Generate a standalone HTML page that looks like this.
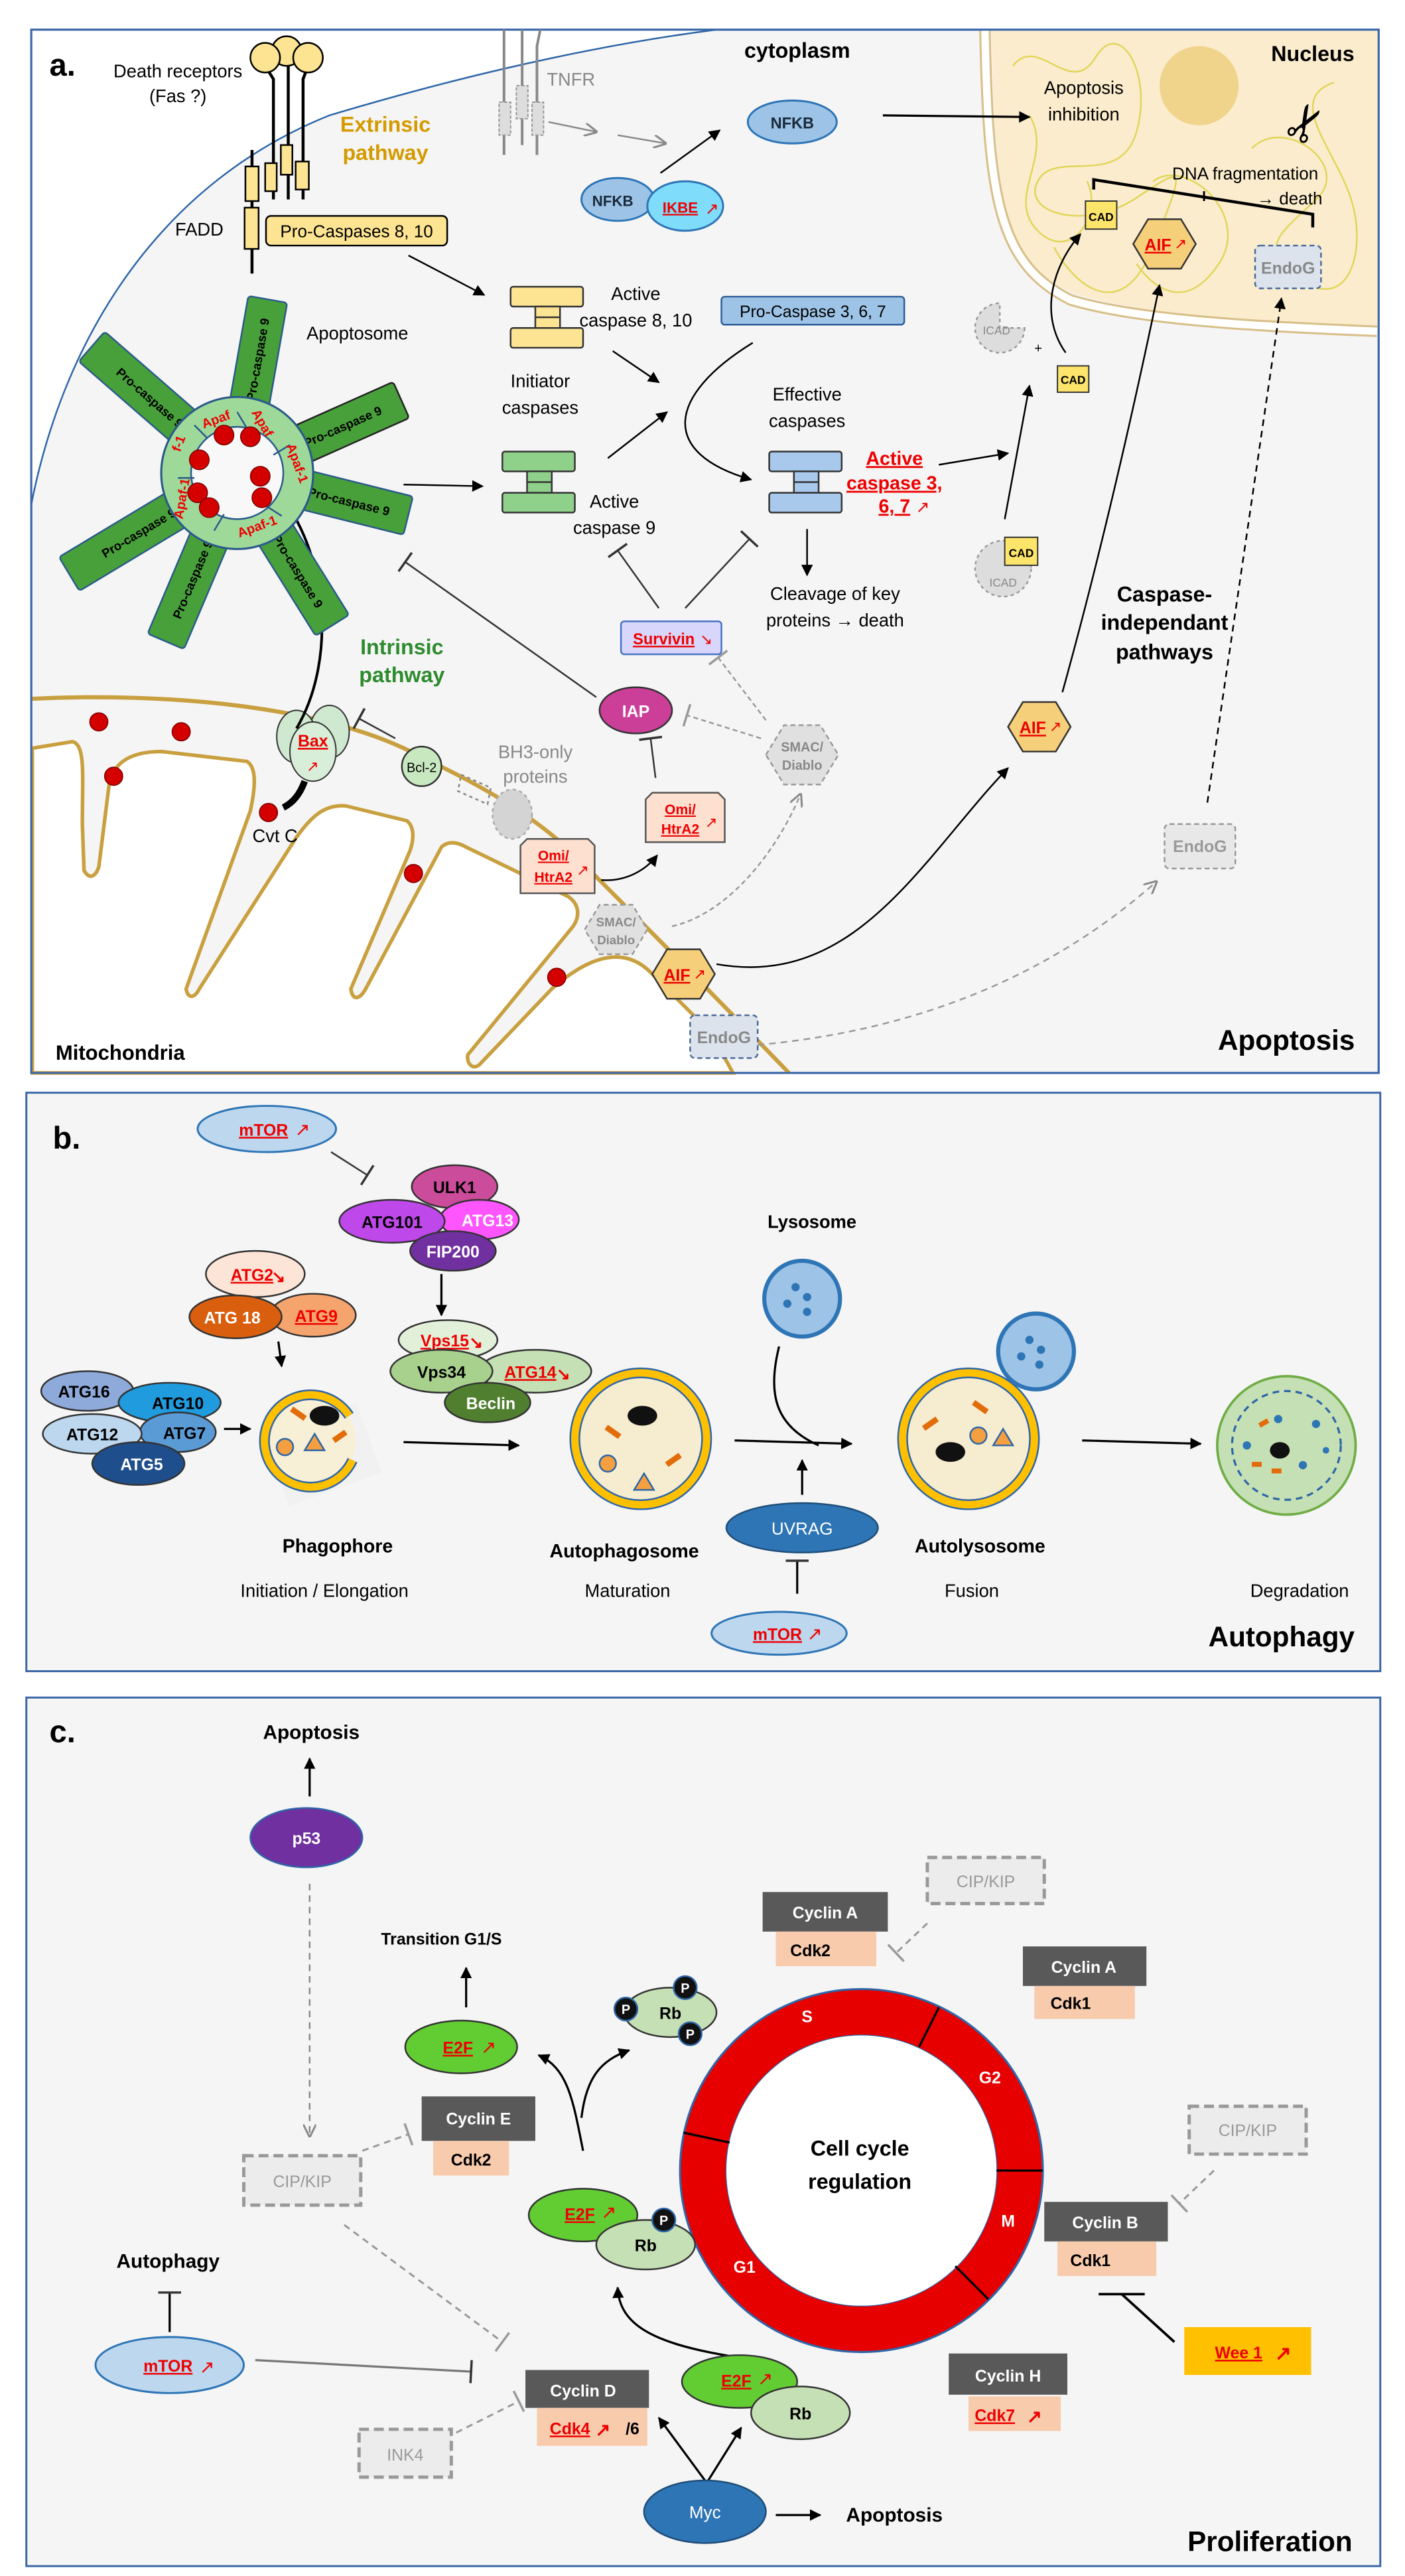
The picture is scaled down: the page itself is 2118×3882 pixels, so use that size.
<!DOCTYPE html>
<html><head><meta charset="utf-8"><style>
html,body{margin:0;padding:0;background:#fff}
svg{display:block}
text{font-family:"Liberation Sans",sans-serif;}
</style></head><body>
<svg width="2118" height="3882" viewBox="0 0 853 1563" preserveAspectRatio="none" xmlns="http://www.w3.org/2000/svg">
<defs>
<marker id="ar" viewBox="0 0 10 10" refX="9" refY="5" markerWidth="7" markerHeight="7" orient="auto" markerUnits="userSpaceOnUse"><path d="M0,0 L10,5 L0,10 z" fill="#000"/></marker>
<marker id="arg" viewBox="0 0 10 10" refX="9" refY="5" markerWidth="8" markerHeight="8" orient="auto" markerUnits="userSpaceOnUse"><path d="M0,0 L10,5 L0,10" fill="none" stroke="#888" stroke-width="1.5"/></marker>
<marker id="bar" viewBox="0 0 4 20" refX="2" refY="10" markerWidth="4" markerHeight="14" orient="auto" markerUnits="userSpaceOnUse"><path d="M2,0 L2,20" stroke="#333" stroke-width="2"/></marker>
<marker id="barg" viewBox="0 0 4 20" refX="2" refY="10" markerWidth="4" markerHeight="14" orient="auto" markerUnits="userSpaceOnUse"><path d="M2,0 L2,20" stroke="#999" stroke-width="2"/></marker>
</defs>

<!-- ================= PANEL A ================= -->
<rect x="19" y="18" width="818" height="633" fill="#f5f5f5" stroke="#3a66a8" stroke-width="1.2"/>
<!-- outside cell white -->
<path d="M19.6,18.6 L435,18.6 C380,25 300,40 200,70 C100,110 40,200 19.6,306 Z" fill="#fff"/>
<path d="M19,306 C40,200 100,110 200,70 C300,40 380,25 435,18" fill="none" stroke="#2e66a8" stroke-width="1"/>
<!-- nucleus -->
<path d="M598,18.6 L836.4,18.6 L836.4,199 C760,196 690,190 652,178 C612,160 604,130 602,18.6 Z" fill="#fbeccd"/>
<path d="M598,18.6 C600,120 606,160 650,182 C690,194 760,198 836,201" fill="none" stroke="#d8c08a" stroke-width="7"/>
<path d="M598,18.6 C600,120 606,160 650,182 C690,194 760,198 836,201" fill="none" stroke="#fff" stroke-width="4.5"/>
<circle cx="728" cy="52" r="24" fill="#f0d48c"/>
<g fill="none" stroke="#e2d55a" stroke-width="1">
<path d="M615,40 C630,20 650,60 665,35 S700,45 690,80 S640,90 630,110 S660,140 690,120 S720,100 700,150 S650,170 640,150"/>
<path d="M760,90 C780,70 820,100 800,120 S760,150 790,170 S830,150 820,120 S780,60 810,50"/>
<path d="M700,110 C720,95 760,130 740,160 S700,175 690,160"/>
<path d="M625,70 C640,95 610,120 630,140 S670,130 660,110"/>
</g>
<!-- mitochondria -->
<path d="M19,424 C100,420 200,428 257,460 C300,480 330,500 350,520 C380,550 420,590 479,651" fill="none" stroke="#c9a040" stroke-width="2.5"/>
<path d="M19.6,454 L44,450 C52,452 50,470 50,500 L51,528 C54,534 58,532 60,526 L66,478 C68,462 80,456 98,456 L150,462 C156,466 155,478 152,492 L113,600 C114,606 118,606 121,600 L180,508 C190,494 198,488 210,489 L247,498 C252,502 251,510 249,516 L213,600 C214,607 218,607 222,600 L268,514 C272,510 278,511 283,514 L345,544 C352,549 352,556 348,562 L284,640 C283,646 288,650 292,645 L335,600 C360,578 380,575 395,590 L425,620 C435,632 440,642 445,651 L19.6,651 Z" fill="#fff" stroke="#c9a040" stroke-width="2.2"/>
<rect x="19" y="18" width="818" height="633" fill="none" stroke="#3a66a8" stroke-width="1.2"/>
<g fill="#d40000" stroke="#7a0000" stroke-width="0.6">
<circle cx="60" cy="438" r="5.5"/><circle cx="110" cy="444" r="5.5"/><circle cx="69" cy="471" r="5.5"/><circle cx="251" cy="530" r="5.5"/><circle cx="338" cy="593" r="5.5"/><circle cx="163" cy="493" r="5.5"/>
</g>

<text x="30" y="46" font-size="19" font-weight="bold">a.</text>
<text x="108" y="47" font-size="11" text-anchor="middle">Death receptors</text>
<text x="108" y="62" font-size="11" text-anchor="middle">(Fas ?)</text>
<!-- death receptors -->
<g stroke="#000" stroke-width="1.8" fill="none">
<path d="M161,40 L166,48 L166,121"/><path d="M175,36 L175,121"/><path d="M187,40 L184,48 L184,121"/>
<path d="M153,91 L153,166"/>
</g>
<g fill="#fde492" stroke="#000" stroke-width="1">
<circle cx="174" cy="31" r="9"/><circle cx="161" cy="35" r="9"/><circle cx="187" cy="35" r="9"/>
<rect x="161" y="99" width="7" height="17"/><rect x="170.5" y="88" width="7" height="18"/><rect x="179.5" y="98" width="8" height="17"/>
<rect x="149" y="101" width="8" height="21"/><rect x="148.5" y="126" width="8.5" height="25"/>
<rect x="161.5" y="131" width="110" height="18" rx="3"/>
</g>
<text x="121" y="143" font-size="11" text-anchor="middle">FADD</text>
<text x="216.5" y="144" font-size="10.5" text-anchor="middle">Pro-Caspases 8, 10</text>
<text x="234" y="80" font-size="13" font-weight="bold" fill="#d49a00" text-anchor="middle">Extrinsic</text>
<text x="234" y="97" font-size="13" font-weight="bold" fill="#d49a00" text-anchor="middle">pathway</text>
<!-- TNFR -->
<g stroke="#888" stroke-width="1.6" fill="none">
<path d="M306,18 L306,94"/><path d="M317,18 L317,88"/><path d="M328,18 L326,28 L326,94"/>
</g>
<g fill="#ddd" stroke="#999" stroke-width="0.8" stroke-dasharray="2,1">
<rect x="303" y="62" width="7" height="20"/><rect x="313.5" y="52" width="7" height="20"/><rect x="323" y="62" width="7" height="20"/>
</g>
<text x="332" y="52" font-size="11" fill="#888">TNFR</text>
<line x1="333" y1="74" x2="362" y2="80" stroke="#888" stroke-width="1" marker-end="url(#arg)"/>
<line x1="375" y1="82" x2="404" y2="87" stroke="#888" stroke-width="1" marker-end="url(#arg)"/>
<text x="484" y="35" font-size="13" font-weight="bold" text-anchor="middle">cytoplasm</text>
<ellipse cx="481" cy="74" rx="27" ry="13" fill="#9dc3e6" stroke="#2e75b6" stroke-width="1.2"/>
<text x="481" y="78" font-size="9.5" font-weight="bold" text-anchor="middle" fill="#1a2a3a">NFKB</text>
<ellipse cx="375" cy="121" rx="22" ry="13" fill="#9dc3e6" stroke="#2e75b6" stroke-width="1.2"/>
<text x="372" y="125" font-size="9" font-weight="bold" text-anchor="middle" fill="#1a2a3a">NFKB</text>
<ellipse cx="416" cy="125" rx="23" ry="15" fill="#7fdcfb" stroke="#2e75b6" stroke-width="1.2"/>
<text x="413" y="129" font-size="9" font-weight="bold" text-anchor="middle" fill="#e00" text-decoration="underline">IKBE</text>
<text x="428" y="130" font-size="10" fill="#e00">↗</text>
<line x1="401" y1="105" x2="437" y2="79" stroke="#000" stroke-width="1" marker-end="url(#ar)"/>
<line x1="536" y1="70" x2="625" y2="71" stroke="#000" stroke-width="1.3" marker-end="url(#ar)"/>
<text x="658" y="57" font-size="11" text-anchor="middle">Apoptosis</text>
<text x="658" y="73" font-size="11" text-anchor="middle">inhibition</text>
<text x="797" y="37" font-size="13" font-weight="bold" text-anchor="middle">Nucleus</text>
<text x="793" y="85" font-size="30" text-anchor="middle" transform="rotate(-60 793 75)">✂</text>
<text x="756" y="109" font-size="10.5" text-anchor="middle">DNA fragmentation</text>
<text x="783" y="124" font-size="10.5" text-anchor="middle">→ death</text>
<path d="M664,115 L664,109 L797,130 L797,138" fill="none" stroke="#000" stroke-width="1.8"/>
<line x1="731" y1="116" x2="731" y2="122" stroke="#000" stroke-width="1.2"/>
<rect x="659" y="122" width="19" height="17" fill="#fde56b" stroke="#333" stroke-width="0.8"/>
<text x="668.5" y="134" font-size="7" font-weight="bold" text-anchor="middle">CAD</text>
<polygon points="688,148 697,133 717,133 726,148 717,163 697,163" fill="#f6cf7a" stroke="#333" stroke-width="1"/>
<text x="703" y="152" font-size="10" font-weight="bold" fill="#e00" text-anchor="middle" text-decoration="underline">AIF</text><text x="713" y="151" font-size="9" fill="#e00">↗</text>
<rect x="762" y="149" width="40" height="26" rx="3" fill="#dde3ec" stroke="#4a6a9a" stroke-dasharray="3,2"/>
<text x="782" y="166" font-size="10" font-weight="bold" fill="#888" text-anchor="middle">EndoG</text>

<!-- caspases -->
<g fill="#fde492" stroke="#333" stroke-width="1">
<rect x="310" y="174" width="44" height="12" rx="1.5"/><rect x="325" y="186" width="15" height="13"/><line x1="325" y1="192.5" x2="340" y2="192.5"/><rect x="310" y="199" width="44" height="12" rx="1.5"/>
</g>
<text x="386" y="182" font-size="11" text-anchor="middle">Active</text>
<text x="386" y="198" font-size="11" text-anchor="middle">caspase 8, 10</text>
<rect x="438" y="180" width="111" height="17" rx="2" fill="#9dc3e6" stroke="#2e5e9a" stroke-width="1"/>
<text x="493.5" y="192.5" font-size="10" text-anchor="middle">Pro-Caspase 3, 6, 7</text>
<text x="217" y="206" font-size="11" text-anchor="middle">Apoptosome</text>
<text x="328" y="235" font-size="11" text-anchor="middle">Initiator</text>
<text x="328" y="251" font-size="11" text-anchor="middle">caspases</text>
<text x="490" y="243" font-size="11" text-anchor="middle">Effective</text>
<text x="490" y="259" font-size="11" text-anchor="middle">caspases</text>
<g fill="#8fd08a" stroke="#333" stroke-width="1">
<rect x="305" y="274" width="44" height="12" rx="1.5"/><rect x="320" y="286" width="15" height="13"/><line x1="320" y1="292.5" x2="335" y2="292.5"/><rect x="305" y="299" width="44" height="12" rx="1.5"/>
</g>
<text x="373" y="308" font-size="11" text-anchor="middle">Active</text>
<text x="373" y="324" font-size="11" text-anchor="middle">caspase 9</text>
<g fill="#a8c8ec" stroke="#333" stroke-width="1">
<rect x="467" y="274" width="44" height="12" rx="1.5"/><rect x="482" y="286" width="15" height="13"/><line x1="482" y1="292.5" x2="497" y2="292.5"/><rect x="467" y="299" width="44" height="12" rx="1.5"/>
</g>
<g font-size="11.5" font-weight="bold" fill="#e00" text-anchor="middle" text-decoration="underline">
<text x="543" y="282">Active</text><text x="543" y="297">caspase 3,</text><text x="543" y="311">6, 7</text>
</g>
<text x="556" y="311" font-size="10" fill="#e00">↗</text>
<g stroke="#000" stroke-width="1" fill="none">
<line x1="248" y1="155" x2="294" y2="179" marker-end="url(#ar)"/>
<line x1="372" y1="213" x2="400" y2="232" marker-end="url(#ar)"/>
<line x1="369" y1="278" x2="405" y2="250" marker-end="url(#ar)"/>
<line x1="245" y1="294" x2="293" y2="295" marker-end="url(#ar)"/>
<path d="M457,208 C405,240 400,275 456,291" marker-end="url(#ar)"/>
<line x1="570" y1="282" x2="612" y2="275" marker-end="url(#ar)"/>
<line x1="490" y1="321" x2="490" y2="349" marker-end="url(#ar)"/>
<line x1="610" y1="315" x2="625" y2="234" marker-end="url(#ar)"/>
<path d="M647,214 C630,190 640,160 656,142" marker-end="url(#ar)"/>
<path d="M645,420 C670,330 690,240 704,173" marker-end="url(#ar)"/>
<path d="M733,487 L778,181" stroke-dasharray="4,3" marker-end="url(#ar)"/>
<path d="M435,585 C520,600 560,520 612,466" marker-end="url(#ar)"/>
<path d="M365,534 C380,535 392,528 399,519" marker-end="url(#ar)"/>
</g>
<text x="507" y="364" font-size="11" text-anchor="middle">Cleavage of key</text>
<text x="507" y="380" font-size="11" text-anchor="middle">proteins → death</text>
<!-- ICAD / CAD -->
<path d="M622,199 A15,15 0 1,1 607,184 L607,199 Z" fill="#ddd" stroke="#999" stroke-dasharray="2,2"/>
<text x="605" y="203" font-size="7" fill="#888" text-anchor="middle">ICAD</text>
<text x="628" y="214" font-size="8">+</text>
<rect x="642" y="222" width="19" height="16" fill="#fde56b" stroke="#333" stroke-width="0.8"/>
<text x="651.5" y="233" font-size="7" font-weight="bold" text-anchor="middle">CAD</text>
<circle cx="609" cy="345" r="17" fill="#ddd" stroke="#999" stroke-dasharray="2,2"/>
<text x="609" y="356" font-size="7" fill="#888" text-anchor="middle">ICAD</text>
<rect x="610" y="326" width="20" height="17" fill="#fde56b" stroke="#333" stroke-width="0.8"/>
<text x="620" y="338" font-size="7" font-weight="bold" text-anchor="middle">CAD</text>
<g font-size="13" font-weight="bold" text-anchor="middle">
<text x="707" y="365">Caspase-</text><text x="707" y="382">independant</text><text x="707" y="400">pathways</text>
</g>
<polygon points="612,441 621,426 641,426 650,441 641,456 621,456" fill="#f6cf7a" stroke="#333" stroke-width="1"/>
<text x="627" y="445" font-size="10" font-weight="bold" fill="#e00" text-anchor="middle" text-decoration="underline">AIF</text><text x="637" y="444" font-size="9" fill="#e00">↗</text>
<rect x="707" y="500" width="43" height="27" rx="3" fill="#e8e8e8" stroke="#999" stroke-dasharray="3,2"/>
<text x="728.5" y="517" font-size="10" font-weight="bold" fill="#999" text-anchor="middle">EndoG</text>
<path d="M460,634 C560,625 640,590 702,535" fill="none" stroke="#999" stroke-width="1" stroke-dasharray="4,3" marker-end="url(#arg)"/>

<!-- survivin, IAP -->
<rect x="377" y="377" width="61" height="20" rx="2" fill="#d8d6fb" stroke="#4472c4" stroke-width="1"/>
<text x="403" y="391" font-size="9.5" font-weight="bold" fill="#e00" text-anchor="middle" text-decoration="underline">Survivin</text><text x="425" y="391" font-size="9" fill="#e00">↘</text>
<g stroke="#333" stroke-width="1" fill="none">
<line x1="400" y1="369" x2="375" y2="334" marker-end="url(#bar)"/>
<line x1="416" y1="369" x2="455" y2="327" marker-end="url(#bar)"/>
<line x1="362" y1="423" x2="246" y2="341" marker-end="url(#bar)"/>
<line x1="398" y1="472" x2="395" y2="448" marker-end="url(#bar)"/>
<line x1="240" y1="448" x2="218" y2="436" marker-end="url(#bar)"/>
</g>
<g stroke="#999" stroke-width="1" fill="none" stroke-dasharray="3,2">
<line x1="462" y1="448" x2="417" y2="434" marker-end="url(#barg)"/>
<line x1="465" y1="437" x2="436" y2="399" marker-end="url(#barg)"/>
<path d="M408,562 C440,555 470,520 486,482" marker-end="url(#arg)"/>
</g>
<ellipse cx="386" cy="431" rx="22" ry="14" fill="#cc3f99" stroke="#333" stroke-width="1"/>
<text x="386" y="435" font-size="10" font-weight="bold" fill="#fff" text-anchor="middle">IAP</text>
<polygon points="465,458 476,440 498,440 509,458 498,476 476,476" fill="#e0e0e0" stroke="#999" stroke-dasharray="3,2"/>
<text x="487" y="456" font-size="8" font-weight="bold" fill="#888" text-anchor="middle">SMAC/</text>
<text x="487" y="467" font-size="8" font-weight="bold" fill="#888" text-anchor="middle">Diablo</text>
<path d="M392,485 L396,481 L436,481 L440,485 L440,511 L392,511 Z" fill="#fde0d0" stroke="#555" stroke-width="1"/>
<text x="413" y="494" font-size="8.5" font-weight="bold" fill="#e00" text-anchor="middle" text-decoration="underline">Omi/</text>
<text x="413" y="506" font-size="8.5" font-weight="bold" fill="#e00" text-anchor="middle" text-decoration="underline">HtrA2</text><text x="428" y="502" font-size="9" fill="#e00">↗</text>
<path d="M316,513 L320,509 L357,509 L361,513 L361,542 L316,542 Z" fill="#fde0d0" stroke="#555" stroke-width="1"/>
<text x="336" y="522" font-size="8.5" font-weight="bold" fill="#e00" text-anchor="middle" text-decoration="underline">Omi/</text>
<text x="336" y="535" font-size="8.5" font-weight="bold" fill="#e00" text-anchor="middle" text-decoration="underline">HtrA2</text><text x="350" y="531" font-size="9" fill="#e00">↗</text>
<polygon points="355,564 364,549 384,549 393,564 384,579 364,579" fill="#e0e0e0" stroke="#999" stroke-dasharray="3,2"/>
<text x="374" y="562" font-size="7.5" font-weight="bold" fill="#888" text-anchor="middle">SMAC/</text>
<text x="374" y="573" font-size="7.5" font-weight="bold" fill="#888" text-anchor="middle">Diablo</text>
<polygon points="396,591 405,576 425,576 434,591 425,606 405,606" fill="#f6cf7a" stroke="#333" stroke-width="1"/>
<text x="411" y="595" font-size="10" font-weight="bold" fill="#e00" text-anchor="middle" text-decoration="underline">AIF</text><text x="421" y="594" font-size="9" fill="#e00">↗</text>
<rect x="419" y="616" width="41" height="26" rx="3" fill="#dde3ec" stroke="#4a6a9a" stroke-dasharray="3,2"/>
<text x="439.5" y="633" font-size="10" font-weight="bold" fill="#888" text-anchor="middle">EndoG</text>

<!-- Bax, Bcl-2 -->
<ellipse cx="200" cy="444" rx="12" ry="16" fill="#cfe8d0" stroke="#333" stroke-width="0.8"/>
<ellipse cx="180" cy="447" rx="12" ry="16" fill="#cfe8d0" stroke="#333" stroke-width="0.8"/>
<ellipse cx="190" cy="456" rx="14" ry="18" fill="#d8eed8" stroke="#333" stroke-width="0.8"/>
<text x="190" y="453" font-size="10" font-weight="bold" fill="#e00" text-anchor="middle" text-decoration="underline">Bax</text>
<text x="186" y="468" font-size="9" fill="#e00">↗</text>
<path d="M185,474 C182,482 178,487 172,490" fill="none" stroke="#000" stroke-width="4"/>
<path d="M180,442 C205,400 200,330 163,292" fill="none" stroke="#000" stroke-width="1.6"/>
<circle cx="256" cy="465" r="12" fill="#c8e8c0" stroke="#333" stroke-width="1"/>
<text x="256" y="468.5" font-size="8" text-anchor="middle">Bcl-2</text>
<text x="325" y="460" font-size="11" fill="#888" text-anchor="middle">BH3-only</text>
<text x="325" y="475" font-size="11" fill="#888" text-anchor="middle">proteins</text>
<path d="M280,470 L298,478 L296,488 L278,480 Z" fill="none" stroke="#888" stroke-dasharray="2,2"/>
<ellipse cx="311" cy="494" rx="12" ry="15" fill="#d4d4d4" stroke="#aaa" stroke-dasharray="2,2"/>
<text x="167" y="511" font-size="11" text-anchor="middle">Cvt C</text>
<text x="244" y="397" font-size="13" font-weight="bold" fill="#2e8b2e" text-anchor="middle">Intrinsic</text>
<text x="244" y="414" font-size="13" font-weight="bold" fill="#2e8b2e" text-anchor="middle">pathway</text>

<!-- apoptosome -->
<g font-size="7.5" font-weight="bold" text-anchor="middle">
<g transform="translate(144,287) rotate(-80)"><rect x="25" y="-12" width="82" height="24" rx="2" fill="#48a03a" stroke="#2a5a8a"/><text x="70" y="3">Pro-caspase 9</text></g>
<g transform="translate(144,287) rotate(-139)"><rect x="25" y="-12" width="92" height="24" rx="2" fill="#48a03a" stroke="#2a5a8a"/><text x="70" y="3" transform="rotate(180 70 0)">Pro-caspase 9</text></g>
<g transform="translate(144,287) rotate(-24)"><rect x="25" y="-12" width="84" height="24" rx="2" fill="#48a03a" stroke="#222"/><text x="70" y="3">Pro-caspase 9</text></g>
<g transform="translate(144,287) rotate(14)"><rect x="25" y="-12" width="82" height="24" rx="2" fill="#48a03a" stroke="#2a5a8a"/><text x="70" y="3">Pro-caspase 9</text></g>
<g transform="translate(144,287) rotate(58)"><rect x="25" y="-12" width="84" height="24" rx="2" fill="#48a03a" stroke="#2a5a8a"/><text x="70" y="3">Pro-caspase 9</text></g>
<g transform="translate(144,287) rotate(113)"><rect x="25" y="-12" width="86" height="24" rx="2" fill="#48a03a" stroke="#2a5a8a"/><text x="70" y="3" transform="rotate(180 70 0)">Pro-caspase 9</text></g>
<g transform="translate(144,287) rotate(149)"><rect x="25" y="-12" width="94" height="24" rx="2" fill="#48a03a" stroke="#2a5a8a"/><text x="70" y="3" transform="rotate(180 70 0)">Pro-caspase 9</text></g>
</g>
<circle cx="144" cy="287" r="37" fill="none" stroke="#2a5a8a" stroke-width="19.5"/>
<circle cx="144" cy="287" r="37" fill="none" stroke="#9fd99a" stroke-width="17"/>
<circle cx="144" cy="287" r="27.5" fill="#f8f8f8"/>
<g stroke="#2a5a8a" stroke-width="1"><line x1="144" y1="250" x2="150" y2="260"/><line x1="176" y1="270" x2="166" y2="276"/><line x1="171" y1="313" x2="160" y2="306"/><line x1="130" y1="322" x2="136" y2="312"/><line x1="108" y1="290" x2="118" y2="290"/><line x1="118" y1="258" x2="126" y2="266"/></g>
<g font-size="8" font-weight="bold" fill="#e00" text-anchor="middle">
<text x="132" y="257" transform="rotate(-20 132 257)">Apaf</text>
<text x="157" y="258" transform="rotate(60 157 258)">Apaf</text>
<text x="178" y="282" transform="rotate(70 178 282)">Apaf-1</text>
<text x="157" y="322" transform="rotate(-20 157 322)">Apaf-1</text>
<text x="113" y="303" transform="rotate(-80 113 303)">Apaf-1</text>
<text x="111" y="270" transform="rotate(-70 111 270)">f-1</text>
</g>
<g fill="#d40000" stroke="#600" stroke-width="0.5">
<circle cx="136" cy="264" r="6"/><circle cx="152" cy="265" r="6"/><circle cx="121" cy="279" r="6"/><circle cx="158" cy="289" r="6"/><circle cx="120" cy="299" r="6"/><circle cx="127" cy="308" r="6"/><circle cx="159" cy="302" r="6"/>
</g>
<text x="73" y="643" font-size="12.5" font-weight="bold" text-anchor="middle">Mitochondria</text>
<text x="781" y="637" font-size="17" font-weight="bold" text-anchor="middle">Apoptosis</text>

<!-- ================= PANEL B ================= -->
<rect x="16" y="663" width="822" height="351" fill="#f5f5f5" stroke="#3a66a8" stroke-width="1.2"/>
<text x="32" y="697" font-size="19" font-weight="bold">b.</text>
<ellipse cx="162" cy="685" rx="42" ry="14" fill="#bdd7ee" stroke="#2e75b6" stroke-width="1.2"/>
<text x="160" y="689" font-size="10" font-weight="bold" fill="#e00" text-anchor="middle" text-decoration="underline">mTOR</text><text x="179" y="689" font-size="11" fill="#e00">↗</text>
<line x1="201" y1="699" x2="223" y2="713" stroke="#333" stroke-width="1" marker-end="url(#bar)"/>
<g font-size="10" font-weight="bold" text-anchor="middle">
<ellipse cx="276" cy="720" rx="26" ry="13" fill="#cc4c9c" stroke="#333"/><text x="276" y="724">ULK1</text>
<ellipse cx="291" cy="740" rx="24" ry="12" fill="#ff55ff" stroke="#333"/><text x="296" y="744" fill="#fff">ATG13</text>
<ellipse cx="238" cy="741" rx="32" ry="13" fill="#bf48ea" stroke="#333"/><text x="238" y="745">ATG101</text>
<ellipse cx="275" cy="759" rx="26" ry="12" fill="#7030a0" stroke="#333"/><text x="275" y="763" fill="#fff">FIP200</text>
<ellipse cx="155" cy="773" rx="30" ry="14" fill="#fce4d6" stroke="#333"/><text x="153" y="777" fill="#e00" text-decoration="underline">ATG2</text><text x="169" y="778" fill="#e00">↘</text>
<ellipse cx="190" cy="798" rx="26" ry="13" fill="#f4a46c" stroke="#333"/><text x="192" y="802" fill="#e00" text-decoration="underline">ATG9</text>
<ellipse cx="143" cy="799" rx="28" ry="13" fill="#d95f0e" stroke="#333"/><text x="141" y="803" fill="#fff">ATG 18</text>
<ellipse cx="53" cy="844" rx="28" ry="12" fill="#8eaadb" stroke="#333"/><text x="51" y="848">ATG16</text>
<ellipse cx="103" cy="851" rx="31" ry="12" fill="#1f9bde" stroke="#333"/><text x="108" y="855">ATG10</text>
<ellipse cx="108" cy="869" rx="23" ry="12" fill="#5b9bd5" stroke="#333"/><text x="112" y="873">ATG7</text>
<ellipse cx="56" cy="870" rx="30" ry="12" fill="#bdd7ee" stroke="#333"/><text x="56" y="874">ATG12</text>
<ellipse cx="84" cy="888" rx="28" ry="13" fill="#1f4e8c" stroke="#333"/><text x="86" y="892" fill="#fff">ATG5</text>
<ellipse cx="272" cy="813" rx="30" ry="12" fill="#e2f0d9" stroke="#333"/><text x="270" y="817" fill="#e00" text-decoration="underline">Vps15</text><text x="289" y="818" fill="#e00">↘</text>
<ellipse cx="325" cy="832" rx="34" ry="13" fill="#c5e0b4" stroke="#333"/><text x="322" y="836" fill="#e00" text-decoration="underline">ATG14</text><text x="342" y="837" fill="#e00">↘</text>
<ellipse cx="268" cy="832" rx="31" ry="13" fill="#a9d18e" stroke="#333"/><text x="268" y="836">Vps34</text>
<ellipse cx="296" cy="851" rx="26" ry="12" fill="#4f7f2f" stroke="#333"/><text x="298" y="855" fill="#fff">Beclin</text>
</g>
<g stroke="#000" stroke-width="1.3" fill="none">
<line x1="268" y1="773" x2="268" y2="798" marker-end="url(#ar)"/>
<line x1="169" y1="814" x2="171" y2="829" marker-end="url(#ar)"/>
<line x1="136" y1="867" x2="152" y2="867" marker-end="url(#ar)"/>
<line x1="245" y1="875" x2="315" y2="877" marker-end="url(#ar)"/>
<path d="M473,817 C466,845 470,865 497,877"/>
<line x1="446" y1="874" x2="517" y2="876" marker-end="url(#ar)"/>
<line x1="487" y1="907" x2="487" y2="886" marker-end="url(#ar)"/>
<line x1="484" y1="967" x2="484" y2="947" marker-end="url(#bar)"/>
<line x1="657" y1="874" x2="729" y2="876" marker-end="url(#ar)"/>
</g>
<!-- phagophore -->
<rect x="165" y="860" width="60" height="45" fill="#eee" opacity="0.6" transform="rotate(-20 195 880)"/>
<circle cx="188" cy="874" r="28" fill="#f7efd6"/>
<path d="M212,859 A28,28 0 1,0 214,886" fill="none" stroke="#2e66a8" stroke-width="6.5"/>
<path d="M212,859 A28,28 0 1,0 214,886" fill="none" stroke="#ffc000" stroke-width="4.5"/>
<ellipse cx="197" cy="859" rx="9" ry="6" fill="#111"/>
<rect x="176" y="856" width="10" height="3.5" fill="#e36c0a" transform="rotate(35 181 858)"/>
<rect x="202" y="870" width="9" height="3.5" fill="#e36c0a" transform="rotate(-35 206 872)"/>
<circle cx="173" cy="878" r="5" fill="#f4a040" stroke="#2e66a8"/>
<polygon points="191,870 197,880 185,880" fill="#f4a040" stroke="#2e66a8"/>
<!-- autophagosome -->
<circle cx="389" cy="873" r="40" fill="#f6edd0" stroke="#2e66a8" stroke-width="6.5"/>
<circle cx="389" cy="873" r="40" fill="none" stroke="#ffc000" stroke-width="4.5"/>
<ellipse cx="390" cy="859" rx="9" ry="6" fill="#111"/>
<rect x="367" y="867" width="10" height="3.5" fill="#e36c0a" transform="rotate(35 372 869)"/>
<rect x="404" y="884" width="10" height="3.5" fill="#e36c0a" transform="rotate(-35 409 886)"/>
<circle cx="369" cy="888" r="5" fill="#f4a040" stroke="#2e66a8"/>
<polygon points="391,894 397,904 385,904" fill="#f4a040" stroke="#2e66a8"/>
<!-- lysosome -->
<text x="493" y="745" font-size="11" font-weight="bold" text-anchor="middle">Lysosome</text>
<circle cx="487" cy="788" r="23" fill="#9dc3e6" stroke="#2e75b6" stroke-width="2.5"/>
<g fill="#2e75b6"><circle cx="483" cy="781" r="2.5"/><circle cx="478" cy="791" r="2.5"/><circle cx="490" cy="787" r="2.5"/><circle cx="490" cy="796" r="2.5"/></g>
<ellipse cx="487" cy="927" rx="46" ry="15" fill="#2e75b6" stroke="#1f4e79"/>
<text x="487" y="931" font-size="10.5" fill="#fff" text-anchor="middle">UVRAG</text>
<ellipse cx="473" cy="991" rx="41" ry="13" fill="#bdd7ee" stroke="#2e75b6" stroke-width="1.2"/>
<text x="472" y="995" font-size="10" font-weight="bold" fill="#e00" text-anchor="middle" text-decoration="underline">mTOR</text><text x="490" y="995" font-size="11" fill="#e00">↗</text>
<!-- autolysosome -->
<circle cx="588" cy="873" r="40" fill="#f6edd0" stroke="#2e66a8" stroke-width="6.5"/>
<circle cx="588" cy="873" r="40" fill="none" stroke="#ffc000" stroke-width="4.5"/>
<ellipse cx="577" cy="881" rx="9" ry="6" fill="#111"/>
<rect x="560" y="862" width="10" height="3.5" fill="#e36c0a" transform="rotate(-35 565 864)"/>
<rect x="590" y="852" width="10" height="3.5" fill="#e36c0a" transform="rotate(35 595 854)"/>
<circle cx="594" cy="871" r="5" fill="#f4a040" stroke="#2e66a8"/>
<polygon points="609,867 615,877 603,877" fill="#f4a040" stroke="#2e66a8"/>
<circle cx="629" cy="820" r="23" fill="#9dc3e6" stroke="#2e75b6" stroke-width="2.5"/>
<g fill="#2e75b6"><circle cx="625" cy="813" r="2.5"/><circle cx="620" cy="823" r="2.5"/><circle cx="632" cy="819" r="2.5"/><circle cx="631" cy="828" r="2.5"/></g>
<!-- degradation -->
<circle cx="781" cy="877" r="42" fill="#c5e0b4" stroke="#70ad47" stroke-width="1.5"/>
<circle cx="781" cy="877" r="33" fill="none" stroke="#2e66a8" stroke-width="1.3" stroke-dasharray="4,3"/>
<ellipse cx="777" cy="880" rx="6" ry="5" fill="#111"/>
<g fill="#2e75b6"><circle cx="776" cy="861" r="2.5"/><circle cx="799" cy="864" r="2.5"/><circle cx="757" cy="877" r="2.5"/><circle cx="791" cy="889" r="2.5"/><circle cx="805" cy="880" r="2"/></g>
<g fill="#e36c0a"><rect x="764" y="862" width="6" height="3" transform="rotate(-30 767 863)"/><rect x="760" y="887" width="6" height="3"/><rect x="772" y="891" width="6" height="3"/></g>
<g font-size="11" text-anchor="middle">
<text x="205" y="942" font-weight="bold" font-size="11.5">Phagophore</text>
<text x="197" y="969">Initiation / Elongation</text>
<text x="379" y="945" font-weight="bold" font-size="11.5">Autophagosome</text>
<text x="381" y="969">Maturation</text>
<text x="595" y="942" font-weight="bold" font-size="11.5">Autolysosome</text>
<text x="590" y="969">Fusion</text>
<text x="789" y="969">Degradation</text>
</g>
<text x="778" y="999" font-size="17" font-weight="bold" text-anchor="middle">Autophagy</text>

<!-- ================= PANEL C ================= -->
<rect x="16" y="1030" width="822" height="527" fill="#f5f5f5" stroke="#3a66a8" stroke-width="1.2"/>
<text x="30" y="1057" font-size="19" font-weight="bold">c.</text>
<text x="189" y="1055" font-size="12" font-weight="bold" text-anchor="middle">Apoptosis</text>
<line x1="188" y1="1090" x2="188" y2="1067" stroke="#000" stroke-width="1.3" marker-end="url(#ar)"/>
<ellipse cx="186" cy="1115" rx="34" ry="18" fill="#7030a0" stroke="#2e66a8" stroke-width="1"/>
<text x="186" y="1119" font-size="10" font-weight="bold" fill="#fff" text-anchor="middle">p53</text>
<line x1="188" y1="1143" x2="188" y2="1296" stroke="#888" stroke-width="1" stroke-dasharray="4,3" marker-end="url(#arg)"/>
<rect x="148" y="1308" width="71" height="30" fill="#ececec" stroke="#999" stroke-width="2" stroke-dasharray="6,3"/>
<text x="183.5" y="1327" font-size="10" fill="#999" text-anchor="middle">CIP/KIP</text>
<g stroke="#999" stroke-width="1.2" fill="none" stroke-dasharray="4,3">
<line x1="220" y1="1305" x2="248" y2="1295" marker-end="url(#barg)"/>
<line x1="209" y1="1350" x2="305" y2="1421" marker-end="url(#barg)"/>
<line x1="563" y1="1167" x2="544" y2="1185" marker-end="url(#barg)"/>
<line x1="737" y1="1317" x2="716" y2="1337" marker-end="url(#barg)"/>
<line x1="277" y1="1476" x2="315" y2="1457" marker-end="url(#barg)"/>
</g>
<g font-size="10" font-weight="bold" text-anchor="middle">
<rect x="256" y="1272" width="69" height="27" fill="#595959"/><text x="290.5" y="1289" fill="#fff">Cyclin E</text>
<rect x="263" y="1299" width="46" height="21" fill="#f8cbad"/><text x="286" y="1314">Cdk2</text>
<rect x="463" y="1148" width="76" height="24" fill="#595959"/><text x="501" y="1164" fill="#fff">Cyclin A</text>
<rect x="471" y="1172" width="61" height="21" fill="#f8cbad"/><text x="492" y="1187">Cdk2</text>
<rect x="621" y="1181" width="75" height="24" fill="#595959"/><text x="658" y="1197" fill="#fff">Cyclin A</text>
<rect x="628" y="1205" width="61" height="20" fill="#f8cbad"/><text x="650" y="1219">Cdk1</text>
<rect x="634" y="1336" width="75" height="24" fill="#595959"/><text x="671" y="1352" fill="#fff">Cyclin B</text>
<rect x="642" y="1360" width="60" height="21" fill="#f8cbad"/><text x="662" y="1375">Cdk1</text>
<rect x="576" y="1428" width="72" height="25" fill="#595959"/><text x="612" y="1445" fill="#fff">Cyclin H</text>
<rect x="588" y="1454" width="56" height="21" fill="#f8cbad"/><text x="604" y="1469" fill="#e00" text-decoration="underline">Cdk7</text><text x="628" y="1470" font-size="11" fill="#e00">↗</text>
<rect x="319" y="1438" width="75" height="23" fill="#595959"/><text x="354" y="1454" fill="#fff">Cyclin D</text>
<rect x="326" y="1461" width="67" height="23" fill="#f8cbad"/><text x="346" y="1477" fill="#e00" text-decoration="underline">Cdk4</text><text x="366" y="1478" font-size="11" fill="#e00">↗</text><text x="384" y="1477">/6</text>
<rect x="719" y="1412" width="77" height="29" fill="#ffc000"/><text x="752" y="1431" fill="#e00" text-decoration="underline">Wee 1</text><text x="779" y="1432" font-size="12" fill="#e00">↗</text>
</g>
<rect x="563" y="1127" width="71" height="28" fill="#ececec" stroke="#999" stroke-width="2" stroke-dasharray="6,3"/>
<text x="598.5" y="1145" font-size="10" fill="#999" text-anchor="middle">CIP/KIP</text>
<rect x="722" y="1278" width="71" height="29" fill="#ececec" stroke="#999" stroke-width="2" stroke-dasharray="6,3"/>
<text x="757.5" y="1296" font-size="10" fill="#999" text-anchor="middle">CIP/KIP</text>
<rect x="218" y="1474" width="56" height="29" fill="#ececec" stroke="#999" stroke-width="2" stroke-dasharray="6,3"/>
<text x="246" y="1493" font-size="10" fill="#999" text-anchor="middle">INK4</text>
<line x1="713" y1="1421" x2="681" y2="1392" stroke="#000" stroke-width="1.5"/>
<line x1="667" y1="1392" x2="695" y2="1392" stroke="#000" stroke-width="1.5"/>
<text x="268" y="1180" font-size="10" font-weight="bold" text-anchor="middle">Transition G1/S</text>
<line x1="283" y1="1218" x2="283" y2="1194" stroke="#000" stroke-width="1.3" marker-end="url(#ar)"/>
<ellipse cx="280" cy="1242" rx="34" ry="16" fill="#62cc33" stroke="#333"/>
<text x="278" y="1246" font-size="10" font-weight="bold" fill="#e00" text-anchor="middle" text-decoration="underline">E2F</text><text x="292" y="1246" font-size="11" fill="#e00">↗</text>
<g stroke="#000" stroke-width="1.3" fill="none">
<path d="M354,1305 C348,1275 345,1255 327,1247" marker-end="url(#ar)"/>
<path d="M353,1285 C356,1260 365,1250 382,1244" marker-end="url(#ar)"/>
<path d="M446,1430 C395,1422 376,1410 375,1388" marker-end="url(#ar)"/>
<line x1="428" y1="1505" x2="400" y2="1467" marker-end="url(#ar)"/>
<line x1="430" y1="1505" x2="450" y2="1473" marker-end="url(#ar)"/>
<line x1="471" y1="1526" x2="498" y2="1526" marker-end="url(#ar)"/>
<line x1="103" y1="1415" x2="103" y2="1391" marker-end="url(#bar)"/>
<line x1="155" y1="1432" x2="286" y2="1439" stroke="#777" marker-end="url(#bar)"/>
</g>
<ellipse cx="407" cy="1221" rx="28" ry="15" fill="#c5e0b4" stroke="#333"/>
<text x="407" y="1225" font-size="10" font-weight="bold" text-anchor="middle">Rb</text>
<g font-size="8" font-weight="bold" fill="#fff" text-anchor="middle">
<circle cx="380" cy="1219" r="7" fill="#111" stroke="#2e66a8"/><text x="380" y="1222">P</text>
<circle cx="416" cy="1206" r="7" fill="#111" stroke="#2e66a8"/><text x="416" y="1209">P</text>
<circle cx="419" cy="1234" r="7" fill="#111" stroke="#2e66a8"/><text x="419" y="1237">P</text>
</g>
<!-- cell cycle ring -->
<circle cx="523" cy="1317" r="96" fill="none" stroke="#2e66a8" stroke-width="29.5"/>
<circle cx="523" cy="1317" r="96" fill="none" stroke="#e60000" stroke-width="27"/>
<circle cx="523" cy="1317" r="82" fill="#fff"/>
<g stroke="#000" stroke-width="1.3">
<line x1="558" y1="1242" x2="570" y2="1218"/>
<line x1="605" y1="1317" x2="633" y2="1317"/>
<line x1="580" y1="1375" x2="600" y2="1395"/>
<line x1="443" y1="1300" x2="415" y2="1294"/>
</g>
<g font-size="10" font-weight="bold" fill="#fff" text-anchor="middle">
<text x="490" y="1227">S</text><text x="601" y="1264">G2</text><text x="612" y="1351">M</text><text x="452" y="1379">G1</text>
</g>
<text x="522" y="1308" font-size="13" font-weight="bold" text-anchor="middle">Cell cycle</text>
<text x="522" y="1328" font-size="13" font-weight="bold" text-anchor="middle">regulation</text>
<ellipse cx="354" cy="1344" rx="33" ry="16" fill="#62cc33" stroke="#333"/>
<text x="352" y="1347" font-size="10" font-weight="bold" fill="#e00" text-anchor="middle" text-decoration="underline">E2F</text><text x="365" y="1346" font-size="11" fill="#e00">↗</text>
<ellipse cx="392" cy="1362" rx="30" ry="15" fill="#c5e0b4" stroke="#333"/>
<text x="392" y="1366" font-size="10" font-weight="bold" text-anchor="middle">Rb</text>
<circle cx="403" cy="1347" r="7" fill="#111" stroke="#2e66a8"/><text x="403" y="1350" font-size="8" font-weight="bold" fill="#fff" text-anchor="middle">P</text>
<ellipse cx="449" cy="1445" rx="35" ry="16" fill="#62cc33" stroke="#333"/>
<text x="447" y="1448" font-size="10" font-weight="bold" fill="#e00" text-anchor="middle" text-decoration="underline">E2F</text><text x="460" y="1447" font-size="11" fill="#e00">↗</text>
<ellipse cx="486" cy="1464" rx="30" ry="16" fill="#c5e0b4" stroke="#333"/>
<text x="486" y="1468" font-size="10" font-weight="bold" text-anchor="middle">Rb</text>
<ellipse cx="428" cy="1524" rx="37" ry="19" fill="#2e75b6" stroke="#1f4e79"/>
<text x="428" y="1528" font-size="10.5" fill="#fff" text-anchor="middle">Myc</text>
<text x="543" y="1530" font-size="12" font-weight="bold" text-anchor="middle">Apoptosis</text>
<text x="102" y="1376" font-size="12" font-weight="bold" text-anchor="middle">Autophagy</text>
<ellipse cx="103" cy="1435" rx="45" ry="17" fill="#bdd7ee" stroke="#2e75b6" stroke-width="1.2"/>
<text x="102" y="1439" font-size="10" font-weight="bold" fill="#e00" text-anchor="middle" text-decoration="underline">mTOR</text><text x="121" y="1440" font-size="11" fill="#e00">↗</text>
<text x="771" y="1548" font-size="17" font-weight="bold" text-anchor="middle">Proliferation</text>
</svg>
</body></html>
